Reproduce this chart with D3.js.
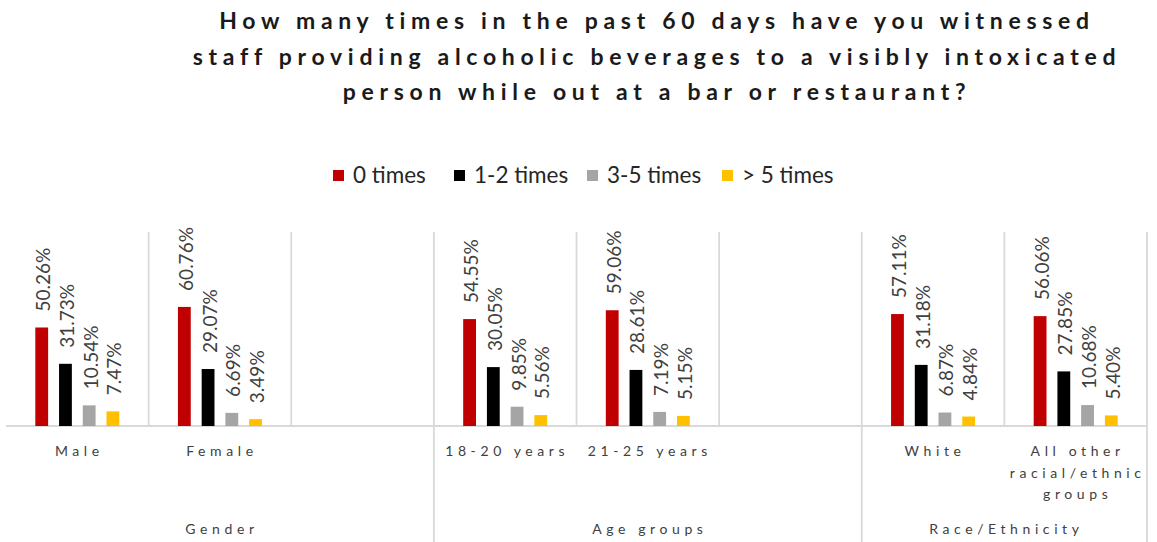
<!DOCTYPE html>
<html><head><meta charset="utf-8">
<script src="https://cdn.jsdelivr.net/npm/d3@7"></script>
<style>
html,body{margin:0;padding:0;background:#fff;}
svg{display:block;}
</style></head>
<body>
<svg id="chart" width="1157" height="542"></svg>
<script>
const titleLines = [
  "How many times in the past 60 days have you witnessed",
  "staff providing alcoholic beverages to a visibly intoxicated",
  "person while out at a bar or restaurant?"
];
const categories = ["Male", "Female", "", "18-20 years", "21-25 years", "", "White", "All other\nracial/ethnic\ngroups"];
const groupNames = ["Gender", "Age groups", "Race/Ethnicity"];
const groupStart = [0, 3, 6];
const groupEnd = [3, 6, 8];
const seriesNames = ["0 times", "1-2 times", "3-5 times", "> 5 times"];
const seriesColors = ["#C00000", "#000000", "#A5A5A5", "#FFC000"];
const zeroTimes = [50.26, 60.76, null, 54.55, 59.06, null, 57.11, 56.06];
const oneTwo    = [31.73, 29.07, null, 30.05, 28.61, null, 31.18, 27.85];
const threeFive = [10.54, 6.69, null, 9.85, 7.19, null, 6.87, 10.68];
const overFive  = [7.47, 3.49, null, 5.56, 5.15, null, 4.84, 5.40];
const seriesValues = [zeroTimes, oneTwo, threeFive, overFive];

const svg = d3.select("#chart");
const FONT = "Lato, 'Open Sans', sans-serif";

// Title
svg.append("g").selectAll("text").data(titleLines).join("text")
  .attr("x", 657).attr("y", (d, i) => 29 + i * 35.5)
  .attr("text-anchor", "middle")
  .style("font-family", FONT).style("font-weight", "700")
  .style("font-size", "23px").style("letter-spacing", "5.7px")
  .attr("fill", "#1a1a1a")
  .text(d => d);

// Legend
const legendX = [333, 454, 587, 722];
const lg = svg.append("g");
seriesNames.forEach((s, i) => {
  lg.append("rect").attr("x", legendX[i]).attr("y", 170).attr("width", 11).attr("height", 11).attr("fill", seriesColors[i]);
  lg.append("text").attr("x", legendX[i] + 20).attr("y", 183)
    .style("font-family", FONT).style("font-size", "22.5px").attr("fill", "#262626").text(s);
});

// Scales
const left = 6, right = 1147, base = 426, top100 = 230;
const x = d3.scaleBand().domain(d3.range(categories.length)).range([left, right]).padding(0);
const y = d3.scaleLinear().domain([0, 100]).range([base, top100]);
const sw = x.bandwidth();

// Grid lines
const grid = svg.append("g").attr("stroke", "#d9d9d9").attr("stroke-width", 1.8);
d3.range(1, categories.length + 1).forEach(i => {
  const xx = left + i * sw;
  const isGroup = groupEnd.includes(i);
  grid.append("line").attr("x1", xx).attr("x2", xx).attr("y1", 232).attr("y2", isGroup ? 542 : base);
});
grid.append("line").attr("x1", left).attr("x2", right).attr("y1", base).attr("y2", base);

// Bars
const bars = svg.append("g");
categories.forEach((c, ci) => {
  const cx = x(ci) + sw / 2;
  const inner = d3.scaleBand().domain(d3.range(seriesNames.length)).range([cx - 42, cx + 42]).paddingInner(0.46).paddingOuter(0);
  seriesValues.forEach((vals, si) => {
    const v = vals[ci];
    if (v == null) return;
    bars.append("rect")
      .attr("x", inner(si)).attr("width", inner.bandwidth())
      .attr("y", y(v)).attr("height", y(0) - y(v))
      .attr("fill", seriesColors[si]);
    const lx = inner(si) + inner.bandwidth() / 2 + 1;
    const ly = y(v) - 16;
    bars.append("text")
      .attr("transform", `translate(${lx},${ly}) rotate(-90)`)
      .attr("dominant-baseline", "central")
      .style("font-family", FONT).style("font-size", "19px")
      .attr("fill", "#404040")
      .text(v.toFixed(2) + "%");
  });
});

// Category labels
const cl = svg.append("g");
categories.forEach((c, ci) => {
  if (!c) return;
  const cx = x(ci) + sw / 2;
  c.split("\n").forEach((line, li) => {
    cl.append("text").attr("x", cx + 2).attr("y", 456 + li * 21.5)
      .attr("text-anchor", "middle")
      .style("font-family", FONT).style("font-size", "14px").style("letter-spacing", "4.6px")
      .attr("fill", "#404040").text(line);
  });
});

// Group labels
groupNames.forEach((g, gi) => {
  const cx = (x(groupStart[gi]) + x(groupEnd[gi] - 1) + sw) / 2;
  svg.append("text").attr("x", cx + 2).attr("y", 534)
    .attr("text-anchor", "middle")
    .style("font-family", FONT).style("font-size", "14px").style("letter-spacing", "4.6px")
    .attr("fill", "#404040").text(g);
});
</script>
</body></html>
